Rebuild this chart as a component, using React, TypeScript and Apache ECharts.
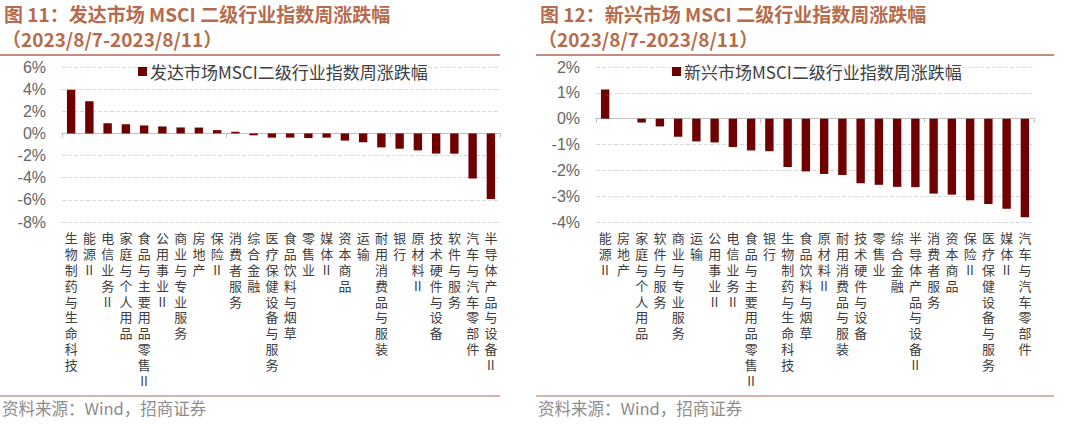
import React, { useEffect, useRef } from "react";
import * as echarts from "echarts";

const devCats = [
  "生物制药与生命科技", "能源II", "电信业务II", "家庭与个人用品", "食品与主要用品零售II",
  "公用事业II", "商业与专业服务", "房地产", "保险II", "消费者服务", "综合金融",
  "医疗保健设备与服务", "食品饮料与烟草", "零售业", "媒体II", "资本商品", "运输",
  "耐用消费品与服装", "银行", "原材料II", "技术硬件与设备", "软件与服务",
  "汽车与汽车零部件", "半导体产品与设备II",
];
const devVals = [
  3.95, 2.9, 0.92, 0.83, 0.72, 0.63, 0.54, 0.53, 0.3, 0.15, -0.17, -0.38, -0.38,
  -0.42, -0.38, -0.65, -0.8, -1.26, -1.38, -1.53, -1.82, -1.83, -4.07, -5.93,
];
const emCats = [
  "能源II", "房地产", "家庭与个人用品", "软件与服务", "商业与专业服务", "运输",
  "公用事业II", "电信业务II", "食品与主要用品零售II", "银行", "生物制药与生命科技",
  "食品饮料与烟草", "原材料II", "耐用消费品与服装", "技术硬件与设备", "零售业",
  "综合金融", "半导体产品与设备II", "消费者服务", "资本商品", "保险II",
  "医疗保健设备与服务", "媒体II", "汽车与汽车零部件",
];
const emVals = [
  1.13, 0, -0.15, -0.3, -0.7, -0.88, -0.92, -1.1, -1.23, -1.26, -1.87, -2.04,
  -2.14, -2.18, -2.5, -2.56, -2.64, -2.65, -2.9, -2.94, -3.16, -3.3, -3.49, -3.82,
];
const devName = "发达市场MSCI二级行业指数周涨跌幅";
const emName = "新兴市场MSCI二级行业指数周涨跌幅";
const devTitle = "图 11：发达市场 MSCI 二级行业指数周涨跌幅";
const emTitle = "图 12：新兴市场 MSCI 二级行业指数周涨跌幅";
const dateRange = "（2023/8/7-2023/8/11）";
const sourceText = "资料来源：Wind，招商证券";

const vert = (s: string) => {
  const parts: string[] = [];
  let i = 0;
  while (i < s.length) {
    if (s[i] === "I" && s[i + 1] === "I") {
      parts.push("II");
      i += 2;
    } else {
      parts.push(s[i]);
      i += 1;
    }
  }
  return parts.join("\n");
};

const BAR = "#6E0000";
const TITLE = "#B66C4C";
const FONT = "'Noto Sans CJK SC', 'Liberation Sans', sans-serif";

export default function App() {
  const ref = useRef<HTMLDivElement>(null);
  useEffect(() => {
    document.body.style.margin = "0";
    const chart = echarts.init(ref.current!, undefined, { renderer: "svg" });
    const xPair = (gi: number, cats: string[]) => [
      {
        gridIndex: gi,
        type: "category",
        data: cats,
        axisLine: { show: true, onZero: true, lineStyle: { color: "#bfbfbf", width: 1 } },
        axisTick: { show: true, length: 4, lineStyle: { color: "#bfbfbf" } },
        axisLabel: { show: false },
        splitLine: { show: false },
      },
      {
        gridIndex: gi,
        type: "category",
        data: cats,
        position: "bottom",
        axisLine: { show: false, onZero: false },
        axisTick: { show: false },
        axisLabel: {
          show: true,
          interval: 0,
          margin: 8,
          formatter: (v: string) => vert(v),
          fontSize: 13,
          lineHeight: 15.8,
          color: "#404040",
          fontFamily: FONT,
          verticalAlign: "top",
        },
        splitLine: { show: false },
      },
    ];
    const yAx = (gi: number, min: number, max: number, interval: number) => ({
      gridIndex: gi,
      type: "value",
      min,
      max,
      interval,
      axisLine: { show: false },
      axisTick: { show: false },
      axisLabel: {
        formatter: "{value}%",
        fontSize: 16,
        color: "#666666",
        margin: 16,
        fontFamily: "'Liberation Sans', Arial, sans-serif",
      },
      splitLine: { show: true, lineStyle: { color: "#d9d9d9", type: "dashed" } },
    });
    const legend = (left: number, name: string) => ({
      left,
      top: 63,
      padding: 0,
      data: [name],
      icon: "rect",
      itemWidth: 9,
      itemHeight: 9,
      itemGap: 4,
      textStyle: { fontSize: 17, color: "#404040", fontFamily: FONT, padding: [0, 0, 0, -2] },
    });
    const titleEls = (x0: number, t: string, w: number) => [
      {
        type: "text",
        left: x0 + 4,
        top: 4,
        style: { text: t, fill: TITLE, font: `bold 19px ${FONT}` },
      },
      {
        type: "text",
        left: x0 + 2,
        top: 29,
        style: { text: dateRange, fill: TITLE, font: `bold 19px ${FONT}` },
      },
      {
        type: "line",
        shape: { x1: x0, y1: 55, x2: x0 + w, y2: 55 },
        style: { stroke: "#A8674F", lineWidth: 1.5 },
      },
      {
        type: "line",
        shape: { x1: x0, y1: 396, x2: x0 + w, y2: 396 },
        style: { stroke: "#C49A8A", lineWidth: 1.5 },
      },
      {
        type: "text",
        left: x0 + 2,
        top: 400,
        style: { text: sourceText, fill: "#8c8c8c", font: `16.5px ${FONT}` },
      },
    ];
    chart.setOption({
      animation: false,
      backgroundColor: "#ffffff",
      grid: [
        { left: 62, top: 67, width: 438, height: 155 },
        { left: 596, top: 67, width: 438, height: 155 },
      ],
      legend: [legend(138, devName), legend(672, emName)],
      xAxis: [...xPair(0, devCats), ...xPair(1, emCats)],
      yAxis: [yAx(0, -8, 6, 2), yAx(1, -4, 2, 1)],
      series: [
        {
          name: devName,
          type: "bar",
          xAxisIndex: 0,
          yAxisIndex: 0,
          data: devVals,
          barWidth: "46%",
          itemStyle: { color: BAR },
        },
        {
          name: emName,
          type: "bar",
          xAxisIndex: 2,
          yAxisIndex: 1,
          data: emVals,
          barWidth: "46%",
          itemStyle: { color: BAR },
        },
      ],
      graphic: [...titleEls(0, devTitle, 500), ...titleEls(536, emTitle, 518)],
    });
    return () => chart.dispose();
  }, []);
  return (
    <div
      ref={ref}
      style={{ position: "absolute", left: 0, top: 0, width: 1068, height: 424 }}
    />
  );
}
